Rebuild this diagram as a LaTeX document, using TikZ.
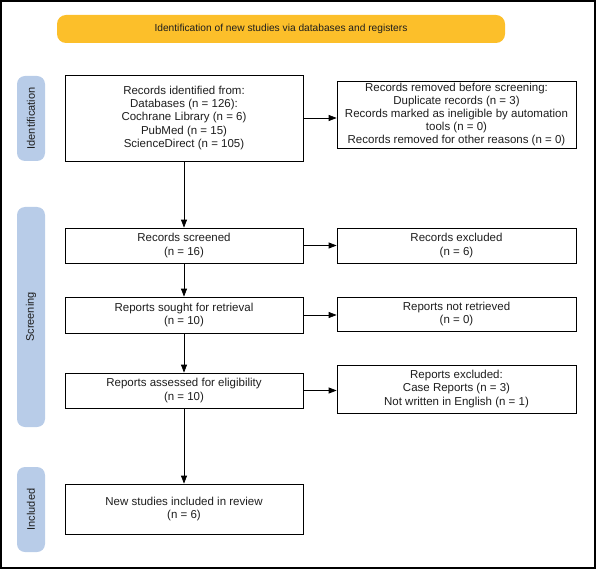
\documentclass[tikz,border=0pt]{standalone}
\usepackage{fontspec}
\setmainfont{Liberation Sans}
\usetikzlibrary{arrows.meta}
\definecolor{banner}{RGB}{252,191,42}
\definecolor{sidebar}{RGB}{184,204,232}
\definecolor{txt}{RGB}{30,30,30}
\tikzset{
  box/.style={draw=black, line width=0.75pt, fill=white, align=center, text=txt,
    font=\fontsize{11.5}{13.2}\selectfont, inner sep=0pt},
  side/.style={fill=sidebar, rounded corners=8pt, inner sep=0pt},
  sidelabel/.style={rotate=90, text=txt, font=\fontsize{11}{12}\selectfont},
  arr/.style={-{Triangle[length=8pt,width=6pt]}, line width=0.75pt, draw=black},
}
\begin{document}
\begin{tikzpicture}[x=1pt,y=-1pt]
\useasboundingbox (0,0) rectangle (596,569);
\draw[line width=2pt] (1,1) rectangle (595,568);
% banner
\node[fill=banner, rounded corners=9pt, minimum width=448pt, minimum height=28pt,
  text=txt, font=\fontsize{10.2}{12}\selectfont, inner sep=0pt] (banner) at (281,29)
  {Identification of new studies via databases and registers};
% side bars
\node[side, minimum width=28pt, minimum height=85pt] (sid) at (31,118.5) {};
\node[sidelabel] (sidl) at (sid.center) {Identification};
\node[side, minimum width=28pt, minimum height=220pt] (ssc) at (31,317) {};
\node[sidelabel] (sscl) at (ssc.center) {Screening};
\node[side, minimum width=28pt, minimum height=85pt] (sin) at (31,509.5) {};
\node[sidelabel] (sinl) at (sin.center) {Included};
% left column
\node[box, minimum width=238pt, minimum height=86pt] (ident) at (184,118)
  {Records identified from:\\Databases (n = 126):\\Cochrane Library (n = 6)\\PubMed (n = 15)\\ScienceDirect (n = 105)};
\node[box, minimum width=238pt, minimum height=35pt] (screen) at (184,245.5)
  {Records screened\\(n = 16)};
\node[box, minimum width=238pt, minimum height=36pt] (sought) at (184,315)
  {Reports sought for retrieval\\(n = 10)};
\node[box, minimum width=238pt, minimum height=35pt] (assess) at (184,390.5)
  {Reports assessed for eligibility\\(n = 10)};
\node[box, minimum width=238pt, minimum height=50pt] (incl) at (184,509)
  {New studies included in review\\(n = 6)};
% right column
\node[box, minimum width=239pt, minimum height=67pt] (removed) at (456.5,114.5)
  {Records removed before screening:\\Duplicate records (n = 3)\\Records marked as ineligible by automation\\tools (n = 0)\\Records removed for other reasons (n = 0)};
\node[box, minimum width=239pt, minimum height=35pt] (excl) at (456.5,245.5)
  {Records excluded\\(n = 6)};
\node[box, minimum width=239pt, minimum height=34pt] (notret) at (456.5,314)
  {Reports not retrieved\\(n = 0)};
\node[box, minimum width=239pt, minimum height=48pt] (repexcl) at (456.5,389)
  {Reports excluded:\\Case Reports (n = 3)\\Not written in English (n = 1)};
% arrows
\draw[arr] (ident.east) -- (removed.west |- ident.east);
\draw[arr] (ident) -- (screen);
\draw[arr] (screen) -- (excl);
\draw[arr] (screen) -- (sought);
\draw[arr] (sought.east) -- (notret.west |- sought.east);
\draw[arr] (sought) -- (assess);
\draw[arr] (assess.east) -- (repexcl.west |- assess.east);
\draw[arr] (assess) -- (incl);
\end{tikzpicture}
\end{document}
